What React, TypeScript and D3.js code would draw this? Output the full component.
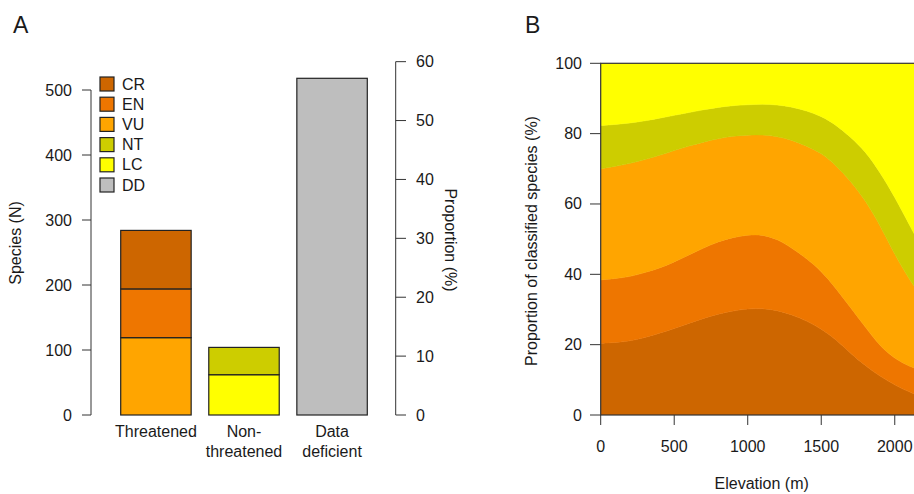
import React, { useEffect, useRef } from "react";
import * as d3 from "d3";

// Panel A: species counts per group
const groups = ["Threatened", "Non-threatened", "Data deficient"];
const groupLabels = [["Threatened"], ["Non-", "threatened"], ["Data", "deficient"]];
const threatenedCounts = { VU: 119, EN: 75, CR: 90 };
const nonThreatenedCounts = { LC: 62, NT: 42 };
const dataDeficientCount = 518;
const speciesTicks = [0, 100, 200, 300, 400, 500];
const proportionTicks = [0, 10, 20, 30, 40, 50, 60];

const legendKeys = ["CR", "EN", "VU", "NT", "LC", "DD"];
const colors: Record<string, string> = {
  CR: "#CD6600",
  EN: "#EE7600",
  VU: "#FFA500",
  NT: "#CDCD00",
  LC: "#FFFF00",
  DD: "#BEBEBE",
};

// Panel B: share of classified species (%) along elevation
const elevation = [0, 100, 200, 300, 400, 500, 600, 700, 800, 900, 1000, 1100, 1200, 1300, 1400, 1500, 1600, 1700, 1800, 1900, 2000, 2100, 2190];
const shareCR = [20.4, 20.6, 21, 22, 23.2, 24.6, 26, 27.5, 28.7, 29.6, 30.2, 30.3, 29.8, 28.5, 26.8, 24.5, 21.5, 17.5, 14, 11, 8.5, 6.5, 5];
const shareEN = [18.0, 18.2, 18.3, 18.5, 18.5, 18.9, 19.5, 20.0, 20.6, 20.9, 21.0, 21.0, 20.2, 19.0, 17.7, 16.5, 14.5, 13.0, 11.0, 8.5, 7.5, 7.3, 7.5];
const shareVU = [31.6, 31.9, 32.2, 32.1, 32.1, 31.7, 31.0, 30.1, 29.3, 28.8, 28.4, 28.4, 29.2, 30.7, 32.0, 33.5, 35.0, 36.0, 36.0, 34.5, 29.5, 24.7, 20.5];
const shareNT = [12.3, 11.9, 11.5, 11.0, 10.6, 10.0, 9.5, 9.2, 8.9, 8.7, 8.6, 8.7, 9.0, 9.4, 10.0, 10.5, 11.5, 12.5, 14.0, 15.0, 16.5, 15.5, 14.0];
const shareLC = [17.7, 17.4, 17, 16.4, 15.6, 14.8, 14, 13.2, 12.5, 12, 11.8, 11.6, 11.8, 12.4, 13.5, 15, 17.5, 21, 25, 31, 38, 46, 53];
const elevationTicks = [0, 500, 1000, 1500, 2000];
const shareTicks = [0, 20, 40, 60, 80, 100];

const FONT = "'Liberation Sans', Arial, sans-serif";
const TEXT = "#1a1a1a";
const LINE = "#333";

const App = () => {
  const ref = useRef<SVGSVGElement>(null);

  useEffect(() => {
    const svg = d3.select(ref.current);
    svg.selectAll("*").remove();
    svg.style("font-family", FONT);

    // ---------- Panel A ----------
    const a = svg.append("g");
    const y = d3.scaleLinear().domain([0, 500]).range([415, 90]);
    const total =
      d3.sum(Object.values(threatenedCounts)) +
      d3.sum(Object.values(nonThreatenedCounts)) +
      dataDeficientCount;
    const yProp = d3.scaleLinear().domain([0, 60]).range([y(0), y(total * 0.6)]);
    const x = d3.scaleBand().domain(groups).range([111.9, 376.1]).paddingInner(0.2).paddingOuter(0.1);

    const segments: { group: string; key: string; y0: number; y1: number }[] = [];
    let acc = 0;
    ["VU", "EN", "CR"].forEach((k) => {
      const v = (threatenedCounts as any)[k];
      segments.push({ group: groups[0], key: k, y0: acc, y1: acc + v });
      acc += v;
    });
    acc = 0;
    ["LC", "NT"].forEach((k) => {
      const v = (nonThreatenedCounts as any)[k];
      segments.push({ group: groups[1], key: k, y0: acc, y1: acc + v });
      acc += v;
    });
    segments.push({ group: groups[2], key: "DD", y0: 0, y1: dataDeficientCount });

    a.selectAll(".seg")
      .data(segments)
      .enter()
      .append("rect")
      .attr("x", (d) => x(d.group)!)
      .attr("width", x.bandwidth())
      .attr("y", (d) => y(d.y1))
      .attr("height", (d) => y(d.y0) - y(d.y1))
      .attr("fill", (d) => colors[d.key])
      .attr("stroke", "#222")
      .attr("stroke-width", 1.2);

    // left axis
    a.append("line").attr("x1", 91).attr("x2", 91).attr("y1", y(0)).attr("y2", y(500)).attr("stroke", LINE);
    speciesTicks.forEach((t) => {
      a.append("line").attr("x1", 82).attr("x2", 91).attr("y1", y(t)).attr("y2", y(t)).attr("stroke", LINE);
      a.append("text").attr("x", 72).attr("y", y(t) + 5.5).attr("text-anchor", "end")
        .attr("font-size", 16).attr("fill", TEXT).text(t);
    });
    a.append("text").attr("transform", `translate(21,243) rotate(-90)`).attr("text-anchor", "middle")
      .attr("font-size", 16).attr("fill", TEXT).text("Species (N)");

    // right axis
    a.append("line").attr("x1", 395.7).attr("x2", 395.7).attr("y1", yProp(0)).attr("y2", yProp(60)).attr("stroke", LINE);
    proportionTicks.forEach((t) => {
      a.append("line").attr("x1", 395.7).attr("x2", 406).attr("y1", yProp(t)).attr("y2", yProp(t)).attr("stroke", LINE);
      a.append("text").attr("x", 416).attr("y", yProp(t) + 5.5)
        .attr("font-size", 16).attr("fill", TEXT).text(t);
    });
    a.append("text").attr("transform", `translate(445,240) rotate(90)`).attr("text-anchor", "middle")
      .attr("font-size", 16).attr("fill", TEXT).text("Proportion (%)");

    // category labels
    groups.forEach((g, i) => {
      groupLabels[i].forEach((line, j) => {
        a.append("text").attr("x", x(g)! + x.bandwidth() / 2).attr("y", 437 + j * 19.5)
          .attr("text-anchor", "middle").attr("font-size", 16).attr("fill", TEXT).text(line);
      });
    });

    // legend
    legendKeys.forEach((k, i) => {
      const cy = 84 + i * 20.2;
      a.append("rect").attr("x", 100).attr("y", cy - 7).attr("width", 14).attr("height", 14)
        .attr("fill", colors[k]).attr("stroke", "#222").attr("stroke-width", 1.2);
      a.append("text").attr("x", 122).attr("y", cy + 5.5).attr("font-size", 16).attr("fill", TEXT).text(k);
    });

    a.append("text").attr("x", 13).attr("y", 33).attr("font-size", 23).attr("fill", TEXT).text("A");

    // ---------- Panel B ----------
    const b = svg.append("g");
    const left = 600.7, right = 922.7, top = 63.3, bottom = 415;
    const xe = d3.scaleLinear().domain([0, 2190]).range([left, right]);
    const ys = d3.scaleLinear().domain([0, 100]).range([bottom, top]);

    const rows = elevation.map((e, i) => ({
      elev: e, CR: shareCR[i], EN: shareEN[i], VU: shareVU[i], NT: shareNT[i], LC: shareLC[i],
    }));
    const keys = ["CR", "EN", "VU", "NT", "LC"];
    const stacked = d3.stack<any>().keys(keys)(rows);

    b.append("clipPath").attr("id", "clipB").append("rect")
      .attr("x", left).attr("y", top).attr("width", right - left).attr("height", bottom - top);

    // smooth bands
    const area = d3.area<any>()
      .x((d) => xe(d.data.elev))
      .y0((d) => ys(d[0]))
      .y1((d) => ys(d[1]))
      .curve(d3.curveBasis);

    b.append("g").attr("clip-path", "url(#clipB)")
      .selectAll("path")
      .data(stacked)
      .enter()
      .append("path")
      .attr("d", area as any)
      .attr("fill", (d) => colors[d.key])
      .attr("stroke", (d) => colors[d.key])
      .attr("stroke-width", 0.5);

    b.append("rect").attr("x", left).attr("y", top).attr("width", right - left).attr("height", bottom - top)
      .attr("fill", "none").attr("stroke", LINE).attr("stroke-width", 1.2);

    shareTicks.forEach((t) => {
      b.append("line").attr("x1", 590).attr("x2", left).attr("y1", ys(t)).attr("y2", ys(t)).attr("stroke", LINE);
      b.append("text").attr("x", 582).attr("y", ys(t) + 5.5).attr("text-anchor", "end")
        .attr("font-size", 16).attr("fill", TEXT).text(t);
    });
    elevationTicks.forEach((t) => {
      b.append("line").attr("x1", xe(t)).attr("x2", xe(t)).attr("y1", bottom).attr("y2", 425).attr("stroke", LINE);
      b.append("text").attr("x", xe(t)).attr("y", 451.5).attr("text-anchor", "middle")
        .attr("font-size", 16).attr("fill", TEXT).text(t);
    });
    b.append("text").attr("transform", `translate(537,241) rotate(-90)`).attr("text-anchor", "middle")
      .attr("font-size", 16).attr("fill", TEXT).text("Proportion of classified species (%)");
    b.append("text").attr("x", (left + right) / 2).attr("y", 489).attr("text-anchor", "middle")
      .attr("font-size", 16).attr("fill", TEXT).text("Elevation (m)");

    b.append("text").attr("x", 525).attr("y", 33).attr("font-size", 23).attr("fill", TEXT).text("B");
  }, []);

  return (
    <svg
      ref={ref}
      width={914}
      height={494}
      style={{ position: "absolute", left: 0, top: 0, background: "#fff" }}
    />
  );
};

export default App;
